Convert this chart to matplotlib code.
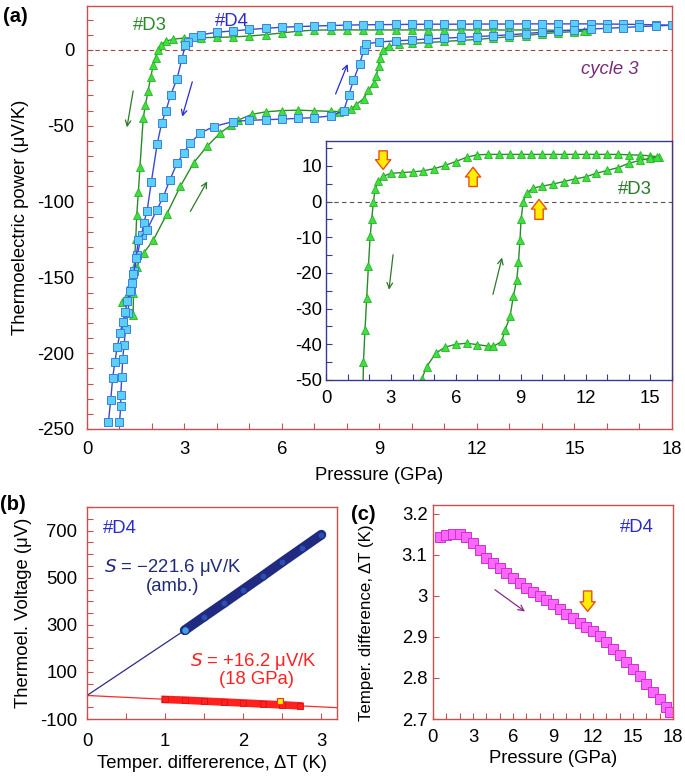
import matplotlib
matplotlib.use('Agg')
from matplotlib import pyplot as plt
from matplotlib.ticker import MultipleLocator

plt.rcParams['font.family'] = ['Liberation Sans', 'DejaVu Sans']
plt.rcParams['axes.unicode_minus'] = False

# ---- (a) thermoelectric power, sample #D4 (squares) ----
d4_dec_p = [18.0, 17.5, 17.0, 16.5, 16.0, 15.5, 15.0, 14.5, 14.0, 13.5, 13.0, 12.5, 12.0, 11.5, 11.0,
            10.5, 10.0, 9.5, 9.0, 8.5, 8.0, 7.5, 7.0, 6.5, 6.0, 5.5, 5.0, 4.5, 4.0, 3.5, 3.27,
            3.1, 3.02, 2.92, 2.77, 2.57, 2.43, 2.30, 2.16, 1.98, 1.85, 1.75, 1.68, 1.55, 1.45,
            1.35, 1.25, 1.19, 1.14, 1.10, 1.07, 1.04, 1.04, 1.00]
d4_dec_s = [16.3, 16.6, 16.8, 17.0, 17.1, 17.2, 17.2, 17.2, 17.2, 17.2, 17.1, 17.1, 17.1, 17.0, 17.0,
            17.0, 16.9, 16.8, 16.7, 16.6, 16.4, 16.1, 15.8, 15.4, 15.0, 14.3, 13.5, 12.6, 11.7, 10.0, 8.4,
            5.4, 3.0, -6.0, -19.0, -30.0, -40.0, -48.0, -62.0, -87.0, -106.0, -114.0, -122.0, -135.0, -146.0,
            -158.0, -173.4, -183.8, -194.4, -203.7, -215.4, -227.5, -235.0, -245.2]
d4_inc_p = [0.66, 0.73, 0.79, 0.86, 0.93, 1.02, 1.10, 1.17, 1.24, 1.33, 1.38, 1.43, 1.51, 1.58, 1.84,
            2.15, 2.35, 2.55, 2.77, 2.97, 3.18, 3.48, 3.9, 4.5, 5.0, 5.5, 6.0, 6.5, 7.0, 7.5, 7.9,
            8.05, 8.2, 8.39, 8.52, 8.6, 9.0, 9.5, 10.0, 10.5, 11.0, 11.5, 12.0, 12.5, 13.0, 13.5,
            14.0, 14.5, 15.0, 15.5, 16.0, 16.5, 17.0, 17.5, 18.0]
d4_inc_s = [-245.2, -230.8, -216.3, -205.5, -196.0, -186.5, -179.7, -173.0, -165.8, -159.0, -153.4, -148.0,
            -137.0, -125.4, -118.8, -105.5, -96.7, -85.7, -74.7, -68.0, -61.5, -54.9, -50.5, -47.2, -46.4,
            -46.0, -45.6, -45.1, -44.6, -43.5, -40.0, -30.0, -20.0, -9.0, 0.0, 4.0, 5.3, 6.0, 6.6, 7.3,
            7.8, 8.3, 8.8, 9.4, 10.0, 10.8, 11.7, 12.5, 13.2, 13.8, 14.3, 14.8, 15.4, 15.9, 16.3]

# ---- (a) sample #D3 (triangles), also shown in the inset ----
d3_dec_p = [15.4, 15.0, 14.5, 14.0, 13.5, 13.0, 12.5, 12.0, 11.5, 11.0, 10.5, 10.0, 9.5, 9.0, 8.5, 8.0,
            7.5, 7.0, 6.5, 6.0, 5.5, 5.0, 4.5, 4.0, 3.5, 3.0, 2.65, 2.42, 2.27, 2.19, 2.11, 2.04, 1.96,
            1.88, 1.80, 1.73, 1.63, 1.58, 1.53, 1.50, 1.45, 1.43, 1.42]
d3_dec_s = [12.5, 12.8, 13.0, 13.1, 13.2, 13.2, 13.2, 13.2, 13.2, 13.2, 13.2, 13.2, 13.2, 13.2, 13.2, 13.2,
            13.2, 13.1, 12.4, 11.2, 10.1, 9.2, 8.6, 8.3, 8.1, 7.9, 7.1, 5.7, 3.4, 0.0, -5.0, -9.7, -18.0,
            -27.0, -36.0, -45.0, -77.0, -94.0, -109.0, -125.0, -143.0, -160.0, -175.0]
d3_inc_p = [1.07, 1.2, 1.35, 1.53, 1.74, 2.04, 2.46, 2.87, 3.28, 3.69, 4.1, 4.42, 4.65, 5.07, 5.5, 6.0,
            6.5, 7.0, 7.5, 7.74, 8.12, 8.28, 8.51, 8.66, 8.82, 8.9, 8.97, 9.02, 9.12, 9.28, 9.59, 10.0,
            10.5, 11.0, 11.5, 12.0, 12.5, 13.0, 13.5, 14.0, 14.5, 15.0, 15.3]
d3_inc_s = [-166.0, -163.0, -157.0, -143.0, -134.0, -125.5, -108.0, -90.0, -74.5, -63.6, -54.7, -49.8,
            -46.3, -42.5, -40.8, -40.0, -39.7, -40.1, -40.5, -40.6, -39.2, -36.0, -32.2, -26.6, -22.0,
            -17.0, -10.7, -5.0, 0.0, 2.4, 3.8, 4.3, 4.9, 5.6, 6.3, 6.9, 7.9, 8.7, 9.5, 10.7, 11.5, 12.1, 12.4]

# ---- (b) thermoelectric voltage vs temperature difference ----
dt_amb = [1.25, 1.5, 1.75, 2.0, 2.25, 2.5, 2.75, 3.0]
v_amb = [277, 335, 392, 450, 508, 567, 625, 683]
dt_18 = [1.0, 1.25, 1.5, 1.75, 2.0, 2.25, 2.5, 2.72]
v_18 = [-17, -20, -24, -28, -32, -36, -40, -44]
dt_mark, v_mark = [2.47], [-22]
s_amb, s_18 = -221.6, 16.2

# ---- (c) temperature difference vs pressure ----
p_c = [0.5, 1.0, 1.5, 2.0, 2.5, 3.0, 3.5, 4.0, 4.5, 5.0, 5.5, 6.0, 6.5, 7.0, 7.5, 8.0, 8.5, 9.0, 9.5,
       10.0, 10.5, 11.0, 11.5, 12.0, 12.5, 13.0, 13.5, 14.0, 14.5, 15.0, 15.5, 16.0, 16.5, 17.0, 17.5, 17.8]
dt_c = [3.143, 3.148, 3.152, 3.150, 3.143, 3.130, 3.113, 3.092, 3.080, 3.068, 3.056, 3.044, 3.032,
        3.020, 3.010, 3.000, 2.990, 2.980, 2.968, 2.956, 2.945, 2.934, 2.924, 2.914, 2.903, 2.888,
        2.871, 2.855, 2.838, 2.821, 2.804, 2.786, 2.767, 2.748, 2.729, 2.717]

RED = '#c8504e'
NAVY = '#3a3a8c'
FS = 13.3


def style(ax, color, fs=FS, pad=6):
    for sp in ax.spines.values():
        sp.set_color(color)
        sp.set_linewidth(1.0)
    ax.tick_params(which='both', direction='in', length=4, width=0.8, color=color,
                   labelsize=fs, pad=pad, top=False, right=False)


def block_arrow(ax, x, y0, y1):
    ax.annotate('', xy=(x, y1), xytext=(x, y0),
                arrowprops=dict(arrowstyle='simple,head_width=1.1,head_length=0.7,tail_width=0.6',
                                fc='#ffee00', ec='#e8501a', lw=1.0, shrinkA=0, shrinkB=0))


def thin_arrow(ax, x0, y0, x1, y1, color):
    ax.annotate('', xy=(x1, y1), xytext=(x0, y0),
                arrowprops=dict(arrowstyle='->', color=color, lw=0.9, shrinkA=0, shrinkB=0))


fig = plt.figure(figsize=(6.85, 7.79), dpi=100)

# ================= (a) =================
ax = fig.add_axes([0.127, 0.4493, 0.854, 0.543])
ax.axhline(0, color='#a04848', ls=(0, (4, 3)), lw=0.8)
d4_style = dict(color='#3b48d0', lw=1.0, marker='s', ms=5.5, mfc='#5cd0f4', mec='#3b7fe0', mew=0.7)
d3_style = dict(color='#2a8a2a', lw=1.0, marker='^', ms=5.5, mfc='#3ee03e', mec='#28b428', mew=0.6)
ax.plot(d3_dec_p, d3_dec_s, **d3_style)
ax.plot(d3_inc_p, d3_inc_s, **d3_style)
ax.plot(d4_dec_p, d4_dec_s, **d4_style)
ax.plot(d4_inc_p, d4_inc_s, **d4_style)
ax.set_xlim(0, 18)
ax.set_ylim(-250, 29)
ax.xaxis.set_major_locator(MultipleLocator(3))
ax.xaxis.set_minor_locator(MultipleLocator(1))
ax.yaxis.set_major_locator(MultipleLocator(50))
ax.yaxis.set_minor_locator(MultipleLocator(10))
style(ax, RED, pad=9)
ax.set_xlabel('Pressure (GPa)', fontsize=FS, labelpad=6)
ax.set_ylabel('Thermoelectric power (\u03bcV/K)', fontsize=FS, labelpad=6)
ax.text(1.94, 16, '#D3', color='#2a8a2a', fontsize=FS, ha='center', va='center')
ax.text(4.47, 19, '#D4', color='#2a2ad0', fontsize=FS, ha='center', va='center')
ax.text(16.1, -13, 'cycle 3', color='#7a2a7a', fontsize=FS, style='italic', ha='center', va='center')
thin_arrow(ax, 1.42, -27, 1.23, -51, '#2a7a2a')
thin_arrow(ax, 3.24, -21, 2.93, -44, '#2a2ad0')
thin_arrow(ax, 3.18, -106.5, 3.7, -86.7, '#2a7a2a')
thin_arrow(ax, 7.65, -29, 8.02, -9.3, '#2a2ad0')
fig.text(0.005, 0.979, '(a)', fontsize=14.5, fontweight='bold', va='center')

# inset (#D3)
axi = fig.add_axes([0.476, 0.5122, 0.505, 0.307])
axi.set_zorder(3)
axi.axhline(0, color='#555555', ls=(0, (4, 3)), lw=0.8)
axi.plot(d3_dec_p, d3_dec_s, **d3_style)
axi.plot(d3_inc_p, d3_inc_s, **d3_style)
axi.set_xlim(0, 16)
axi.set_ylim(-50, 17)
axi.xaxis.set_major_locator(MultipleLocator(3))
axi.xaxis.set_minor_locator(MultipleLocator(1))
axi.yaxis.set_major_locator(MultipleLocator(10))
axi.yaxis.set_minor_locator(MultipleLocator(5))
style(axi, NAVY, pad=7)
axi.tick_params(axis='y', pad=3)
axi.text(14.3, 3.4, '#D3', color='#2a7a2a', fontsize=FS, ha='center', va='center')
thin_arrow(axi, 3.1, -14.9, 2.91, -24.7, '#2a7a2a')
thin_arrow(axi, 7.72, -26, 8.14, -15.7, '#2a7a2a')
block_arrow(axi, 2.64, 14.2, 9.0)
block_arrow(axi, 6.8, 4.2, 9.6)
block_arrow(axi, 9.85, -5.0, 0.6)

# ================= (b) =================
axb = fig.add_axes([0.127, 0.077, 0.365, 0.272])
axb.plot([0, 3.2], [0, -s_18 * 3.2], color='#ff2a2a', lw=0.9)
axb.plot([0, dt_amb[0]], [0, -s_amb * dt_amb[0]], color='#2a2a8a', lw=0.9)
axb.plot(dt_amb, v_amb, color='#1f2a80', lw=7, solid_capstyle='round')
axb.plot(dt_amb, v_amb, ls='none', marker='o', ms=5, mfc='#2a50b0', mec='#1f2a80', mew=0.8)
axb.plot(dt_amb[:1], v_amb[:1], ls='none', marker='o', ms=5.5, mfc='#40a0e0', mec='#1f2a80', mew=0.8)
axb.plot(dt_18, v_18, color='#ff2020', lw=5.5)
axb.plot(dt_18, v_18, ls='none', marker='s', ms=4.5, mfc='#ff2020', mec='#e01010', mew=0.6)
axb.plot(dt_mark, v_mark, ls='none', marker='s', ms=5, mfc='#ffee00', mec='#ff3010', mew=0.8)
axb.set_xlim(0, 3.2)
axb.set_ylim(-100, 800)
axb.set_yticks([-100, 100, 300, 500, 700])
axb.yaxis.set_minor_locator(MultipleLocator(50))
axb.xaxis.set_major_locator(MultipleLocator(1))
axb.xaxis.set_minor_locator(MultipleLocator(0.5))
style(axb, RED, pad=10)
axb.tick_params(axis='y', pad=7)
axb.set_xlabel('Temper. differerence, \u0394T (K)', fontsize=FS, labelpad=4)
axb.set_ylabel('Thermoel. Voltage (\u03bcV)', fontsize=FS, labelpad=6)
axb.text(0.42, 708, '#D4', color='#2a2ad0', fontsize=FS, ha='center', va='center')
axb.text(1.1, 543, '$S$ = \u2212221.6 \u03bcV/K', color='#1f2a7a', fontsize=FS, ha='center', va='center')
axb.text(1.1, 463, '(amb.)', color='#1f2a7a', fontsize=FS, ha='center', va='center')
axb.text(2.13, 146, '$S$ = +16.2 \u03bcV/K', color='#ff2020', fontsize=FS, ha='center', va='center')
axb.text(2.17, 66, '(18 GPa)', color='#ff2020', fontsize=FS, ha='center', va='center')
fig.text(0.0, 0.352, '(b)', fontsize=14.5, fontweight='bold', va='center')

# ================= (c) =================
axc = fig.add_axes([0.632, 0.077, 0.3505, 0.275])
axc.plot(p_c, dt_c, color='#e040e0', lw=1.0, marker='s', ms=7, mfc='#ff66ff', mec='#cc33cc', mew=0.7)
axc.set_xlim(0, 18)
axc.set_ylim(2.7, 3.222)
axc.xaxis.set_major_locator(MultipleLocator(3))
axc.xaxis.set_minor_locator(MultipleLocator(1))
axc.set_yticks([2.7, 2.8, 2.9, 3.0, 3.1, 3.2])
axc.set_yticklabels(['2.7', '2.8', '2.9', '3', '3.1', '3.2'])
style(axc, RED, pad=7)
axc.tick_params(axis='y', pad=4)
axc.set_xlabel('Pressure (GPa)', fontsize=FS, labelpad=3)
axc.set_ylabel('Temper. difference, \u0394T (K)', fontsize=12.2)
axc.yaxis.set_label_coords(-0.245, 0.45)
axc.text(15.3, 3.167, '#D4', color='#2a2ad0', fontsize=FS, ha='center', va='center')
thin_arrow(axc, 4.65, 3.015, 6.9, 2.962, '#8a2a8a')
block_arrow(axc, 11.6, 3.012, 2.962)
fig.text(0.513, 0.34, '(c)', fontsize=14.5, fontweight='bold', va='center')

fig.savefig('out.png', dpi=100)
